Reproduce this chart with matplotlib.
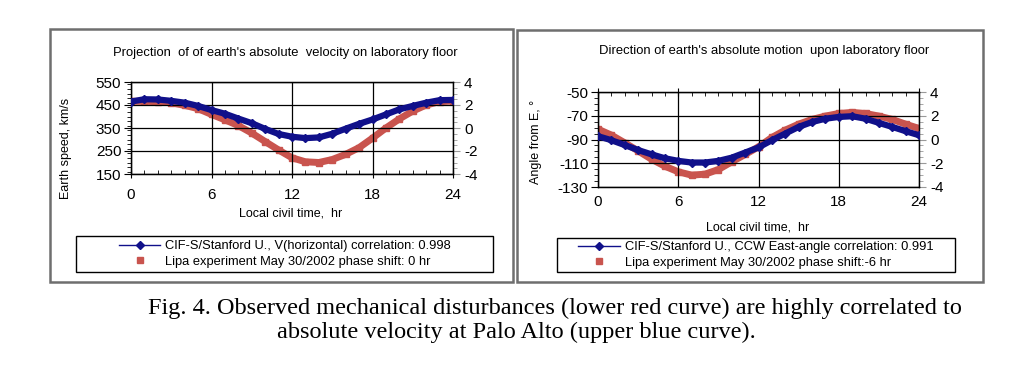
import matplotlib.pyplot as plt
from matplotlib.lines import Line2D
from matplotlib.patches import Rectangle
from matplotlib.ticker import MultipleLocator

plt.rcParams['font.family'] = ['Liberation Sans', 'DejaVu Sans']
plt.rcParams['axes.unicode_minus'] = False

# hourly readings, local civil time 0..24 hr
hours = list(range(25))

# left chart: horizontal speed (km/s) and Lipa signal (right axis)
speed_cif = [465, 475, 474, 468, 460, 446, 428, 412, 391, 371, 346, 324, 312,
             306, 309, 325, 347, 368, 387, 409, 431, 446, 460, 471, 472]
lipa_speed = [2.32, 2.32, 2.29, 2.18, 1.97, 1.68, 1.18, 0.71, 0.21, -0.44, -1.18,
              -1.91, -2.59, -2.94, -3.0, -2.74, -2.29, -1.71, -0.88, 0.0, 0.79,
              1.47, 2.0, 2.29, 2.35]

# right chart: CCW east angle (deg) and Lipa signal (right axis)
angle_cif = [-87.2, -90.6, -94.7, -98.9, -102.5, -105.8, -108.0, -109.4, -109.4,
             -108.0, -105.3, -101.0, -96.7, -90.6, -85.0, -79.4, -75.3, -72.5,
             -71.0, -70.4, -72.5, -76.0, -79.4, -83.0, -86.4]
lipa_angle = [0.87, 0.37, -0.28, -0.96, -1.66, -2.25, -2.72, -3.0, -2.92, -2.53,
              -1.88, -1.26, -0.62, 0.17, 0.79, 1.29, 1.69, 1.97, 2.19, 2.28, 2.19,
              1.97, 1.69, 1.29, 0.93]

speed_ticks = [150, 250, 350, 450, 550]
angle_ticks = [-130, -110, -90, -70, -50]

blue = '#10108a'
red = '#c9544e'

W, H = 1023, 384
fig = plt.figure(figsize=(W / 100, H / 100), dpi=100)


def fx(px):
    return px / W


def fy(py):
    return 1 - py / H


def box(x0, y0, x1, y1, **kw):
    fig.patches.append(Rectangle((fx(x0), fy(y1)), fx(x1) - fx(x0), fy(y0) - fy(y1),
                                 transform=fig.transFigure, fill=False, **kw))


# outer panel frames
box(50, 29, 513, 282, edgecolor='#6e6e6e', lw=1.8)
box(517, 30, 983, 282, edgecolor='#6e6e6e', lw=1.8)


def panel(rect, x, y1, y2, yticks, ymin, top_ticks, xpad):
    ax = fig.add_axes(rect)
    ax.plot(x, y1, '-', color=blue, lw=4.5, marker='D', ms=4.5, zorder=3)
    ax.set_xlim(0, 24)
    ax.set_ylim(yticks[0], yticks[-1])
    ax.set_xticks([0, 6, 12, 18, 24])
    ax.set_yticks(yticks)
    ax.xaxis.set_minor_locator(MultipleLocator(1))
    ax.yaxis.set_minor_locator(MultipleLocator(ymin))
    ax.grid(True, which='major', color='black', lw=0.9)
    ax.tick_params(axis='y', which='major', direction='out', length=5, labelsize=11, pad=2)
    ax.tick_params(axis='y', which='minor', direction='out', length=3)
    ax.tick_params(axis='x', which='major', direction='inout', length=6, labelsize=11, pad=xpad)
    ax.tick_params(axis='x', which='minor', direction='in', length=3)
    if top_ticks:
        ax.tick_params(axis='x', which='both', top=True, bottom=False)
    for s in ax.spines.values():
        s.set_linewidth(1.0)
    ax2 = ax.twinx()
    ax2.plot(x, y2, '-', color=red, lw=5, marker='s', ms=4.5, zorder=2)
    ax2.set_ylim(-4, 4)
    ax2.yaxis.set_major_locator(MultipleLocator(2))
    ax2.yaxis.set_minor_locator(MultipleLocator(0.5))
    ax2.tick_params(axis='y', which='major', direction='out', length=5, color='#999999',
                    labelsize=11, pad=3)
    ax2.tick_params(axis='y', which='minor', direction='out', length=3, color='#999999')
    ax2.spines['right'].set_color('#999999')
    ax.set_zorder(ax2.get_zorder() + 1)
    ax.patch.set_visible(False)
    return ax, ax2


axL, axL2 = panel([fx(131), fy(174), fx(453) - fx(131), fy(82) - fy(174)],
                  hours, speed_cif, lipa_speed, speed_ticks, 20, False, 7)
axR, axR2 = panel([fx(598), fy(187), fx(919) - fx(598), fy(92) - fy(187)],
                  hours, angle_cif, lipa_angle, angle_ticks, 5, True, 3)

fig.text(fx(285), fy(53), "Projection  of of earth's absolute  velocity on laboratory floor",
         ha='center', va='center', fontsize=9.4)
fig.text(fx(764), fy(51), "Direction of earth's absolute motion  upon laboratory floor",
         ha='center', va='center', fontsize=9.4)

fig.text(fx(291), fy(214), "Local civil time,  hr", ha='center', va='center', fontsize=9)
fig.text(fx(758), fy(227), "Local civil time,  hr", ha='center', va='center', fontsize=9)
fig.text(fx(66), fy(148), "Earth speed, km/s", ha='center', va='center', rotation=90, fontsize=9)
fig.text(fx(536), fy(142), "Angle from E, \u00b0", ha='center', va='center', rotation=90, fontsize=9)

# legends
box(76, 236, 493, 272, edgecolor='black', lw=1.0)
box(557, 238, 955, 272, edgecolor='black', lw=1.0)
hb = Line2D([], [], color=blue, lw=1, marker='D', ms=4)
hr = Line2D([], [], color=red, lw=0, marker='s', ms=4)
fig.legend([hb, hr], ['CIF-S/Stanford U., V(horizontal) correlation: 0.998',
                      'Lipa experiment May 30/2002 phase shift: 0 hr'],
           loc='center', bbox_to_anchor=(fx(285), fy(254)), frameon=False, fontsize=9.3,
           handlelength=3.2, handletextpad=0.4, labelspacing=0.25, borderpad=0)
fig.legend([hb, hr], ['CIF-S/Stanford U., CCW East-angle correlation: 0.991',
                      'Lipa experiment May 30/2002 phase shift:-6 hr'],
           loc='center', bbox_to_anchor=(fx(756), fy(255)), frameon=False, fontsize=9.3,
           handlelength=3.2, handletextpad=0.4, labelspacing=0.25, borderpad=0)

fig.text(fx(555), fy(308),
         "Fig. 4. Observed mechanical disturbances (lower red curve) are highly correlated to",
         ha='center', va='center', fontsize=17.5, family=['Liberation Serif', 'DejaVu Serif'])
fig.text(fx(516), fy(332), "absolute velocity at Palo Alto (upper blue curve).",
         ha='center', va='center', fontsize=17.5, family=['Liberation Serif', 'DejaVu Serif'])

fig.savefig('out.png', dpi=100)
